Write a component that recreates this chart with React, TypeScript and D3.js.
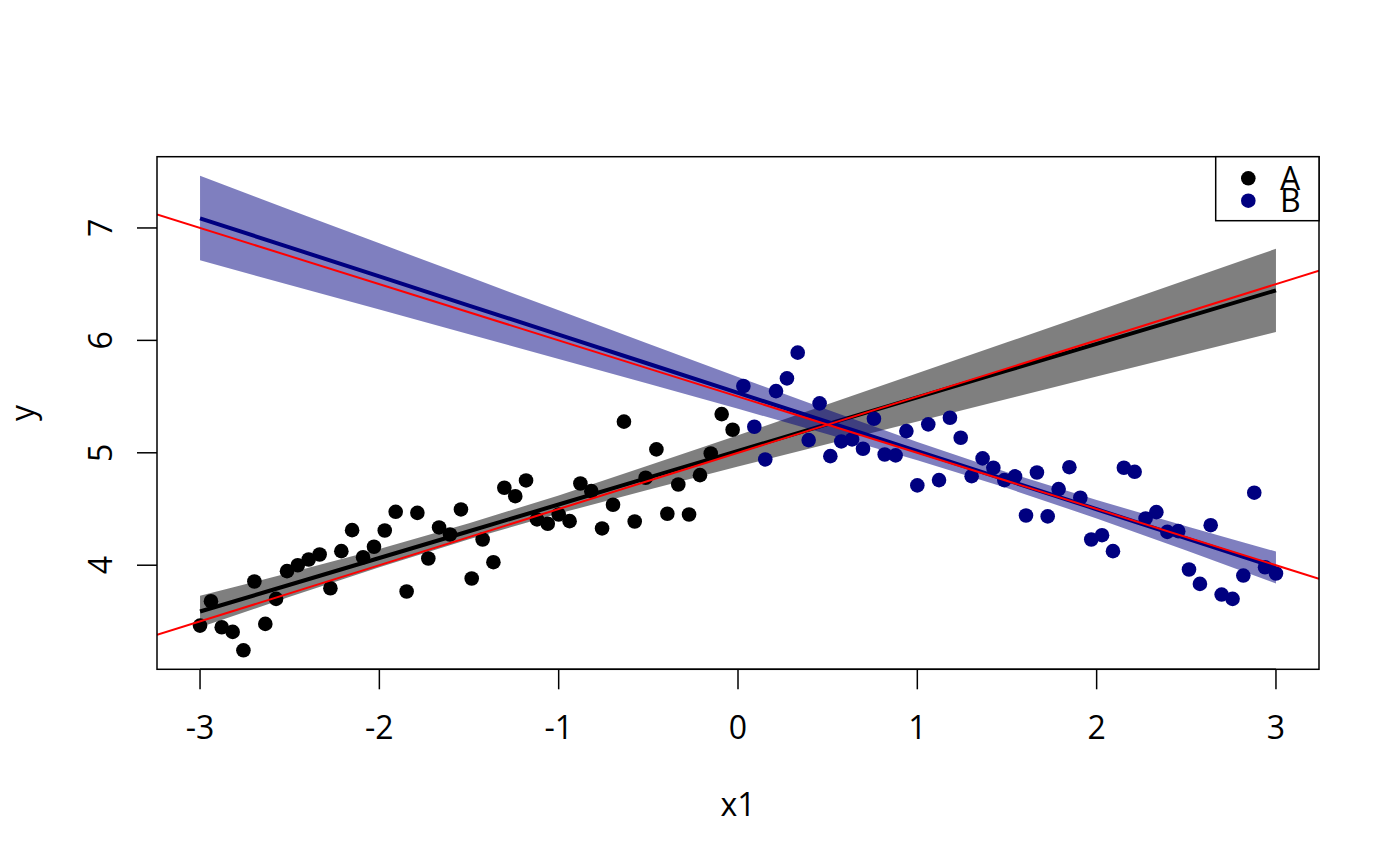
import React from "react";
import * as d3 from "d3";

// ---- data ----
const xA = [-3.000,-2.939,-2.879,-2.818,-2.758,-2.697,-2.636,-2.576,-2.515,-2.455,-2.394,-2.333,-2.273,-2.212,-2.152,-2.091,-2.030,-1.970,-1.909,-1.848,-1.788,-1.727,-1.667,-1.606,-1.545,-1.485,-1.424,-1.364,-1.303,-1.242,-1.182,-1.121,-1.061,-1.000,-0.939,-0.879,-0.818,-0.758,-0.697,-0.636,-0.576,-0.515,-0.455,-0.394,-0.333,-0.273,-0.212,-0.152,-0.091,-0.030];
const yA = [3.463,3.680,3.448,3.407,3.243,3.855,3.478,3.701,3.947,4.000,4.051,4.095,3.795,4.125,4.312,4.071,4.164,4.309,4.475,3.766,4.466,4.060,4.336,4.273,4.496,3.882,4.229,4.027,4.689,4.614,4.754,4.407,4.369,4.451,4.392,4.727,4.659,4.327,4.538,5.277,4.389,4.778,5.030,4.458,4.718,4.451,4.801,4.994,5.344,5.205];
const xB = [0.030,0.091,0.152,0.212,0.273,0.333,0.394,0.455,0.515,0.576,0.636,0.697,0.758,0.818,0.879,0.939,1.000,1.061,1.121,1.182,1.242,1.303,1.364,1.424,1.485,1.545,1.606,1.667,1.727,1.788,1.848,1.909,1.970,2.030,2.091,2.152,2.212,2.273,2.333,2.394,2.455,2.515,2.576,2.636,2.697,2.758,2.818,2.879,2.939,3.000];
const yB = [5.594,5.232,4.941,5.549,5.662,5.891,5.113,5.440,4.970,5.101,5.119,5.036,5.303,4.985,4.977,5.193,4.710,5.253,4.757,5.312,5.134,4.792,4.950,4.867,4.757,4.790,4.442,4.825,4.434,4.677,4.872,4.600,4.229,4.267,4.125,4.867,4.831,4.416,4.472,4.297,4.303,3.962,3.834,4.356,3.739,3.701,3.908,4.645,3.982,3.926];

// fitted lines and confidence bands
const gridX = [-3,-2.5,-2,-1.5,-1,-0.5,0,0.5,1,1.5,2,2.5,3];
const fitA = [3.588,3.826,4.064,4.302,4.540,4.779,5.017,5.255,5.493,5.731,5.969,6.207,6.445];
const lowA = [3.448,3.719,3.983,4.231,4.459,4.672,4.877,5.079,5.279,5.479,5.678,5.877,6.075];
const upA = [3.728,3.933,4.145,4.373,4.621,4.886,5.157,5.431,5.707,5.983,6.260,6.537,6.815];
const fitB = [7.086,6.827,6.569,6.310,6.051,5.792,5.533,5.274,5.015,4.757,4.498,4.239,3.980];
const lowB = [6.712,6.493,6.275,6.055,5.835,5.614,5.391,5.166,4.933,4.686,4.416,4.131,3.838];
const upB = [7.465,7.161,6.863,6.565,6.267,5.970,5.675,5.382,5.097,4.828,4.580,4.347,4.122];

// true lines (abline): intercept, slope
const trueA = [5, 0.5];
const trueB = [5.5, -0.5];

const xTicks = [-3, -2, -1, 0, 1, 2, 3];
const yTicks = [4, 5, 6, 7];
const legendLabels = ["A", "B"];
const legendColors = ["#000000", "#000080"];

const W = 1400, H = 866;
const L = 157, R = 1319, T = 156.7, B = 669.3;
const FONT = "'Open Sans', 'Noto Sans', sans-serif";

export default function App() {
  const xExt = [Math.min(...xA, ...xB), Math.max(...xA, ...xB)];
  const yMin = Math.min(...yA, ...yB, ...lowA, ...lowB);
  const yMax = Math.max(...yA, ...yB, ...upA, ...upB);
  const xPad = (xExt[1] - xExt[0]) * 0.04;
  const yPad = (yMax - yMin) * 0.04;
  const x = d3.scaleLinear().domain([xExt[0] - xPad, xExt[1] + xPad]).range([L, R]);
  const y = d3.scaleLinear().domain([yMin - yPad, yMax + yPad]).range([B, T]);

  const bandA = d3.area<number>().x((_, i) => x(gridX[i])).y0((_, i) => y(lowA[i])).y1((_, i) => y(upA[i]))(gridX) as string;
  const bandB = d3.area<number>().x((_, i) => x(gridX[i])).y0((_, i) => y(lowB[i])).y1((_, i) => y(upB[i]))(gridX) as string;
  const lineA = d3.line<number>().x((_, i) => x(gridX[i])).y((_, i) => y(fitA[i]))(gridX) as string;
  const lineB = d3.line<number>().x((_, i) => x(gridX[i])).y((_, i) => y(fitB[i]))(gridX) as string;
  const [dx0, dx1] = x.domain();
  const abl = (p: number[]) => ({ x1: x(dx0), y1: y(p[0] + p[1] * dx0), x2: x(dx1), y2: y(p[0] + p[1] * dx1) });
  const rA = abl(trueA), rB = abl(trueB);

  const r = 7.3;
  return (
    <svg width={W} height={H} style={{ position: "absolute", left: 0, top: 0, background: "#fff" }} fontFamily={FONT}>
      <defs>
        <clipPath id="plotclip"><rect x={L} y={T} width={R - L} height={B - T} /></clipPath>
      </defs>
      <rect x={0} y={0} width={W} height={H} fill="#fff" />
      <g clipPath="url(#plotclip)">
        <path d={bandA} fill="rgba(0,0,0,0.5)" />
        <path d={lineA} fill="none" stroke="#000" strokeWidth={4} />
        {xA.map((v, i) => <circle key={"a" + i} cx={x(v)} cy={y(yA[i])} r={r} fill="#000" />)}
        <path d={bandB} fill="rgba(0,0,128,0.5)" />
        <path d={lineB} fill="none" stroke="#000080" strokeWidth={4} />
        {xB.map((v, i) => <circle key={"b" + i} cx={x(v)} cy={y(yB[i])} r={r} fill="#000080" />)}
        <line {...rA} stroke="#ff0000" strokeWidth={2} />
        <line {...rB} stroke="#ff0000" strokeWidth={2} />
      </g>
      <rect x={L} y={T} width={R - L} height={B - T} fill="none" stroke="#000" strokeWidth={1.5} />
      {/* x axis */}
      <line x1={x(xTicks[0])} x2={x(xTicks[xTicks.length - 1])} y1={B} y2={B} stroke="#000" strokeWidth={1.5} />
      {xTicks.map(t => (
        <g key={"xt" + t}>
          <line x1={x(t)} x2={x(t)} y1={B} y2={B + 20} stroke="#000" strokeWidth={1.5} />
          <text x={x(t)} y={738.5} fontSize={32} textAnchor="middle">{t}</text>
        </g>
      ))}
      {/* y axis */}
      {yTicks.map(t => (
        <g key={"yt" + t}>
          <line x1={L - 20} x2={L} y1={y(t)} y2={y(t)} stroke="#000" strokeWidth={1.5} />
          <text transform={`translate(${111.5},${y(t)}) rotate(-90)`} fontSize={32} textAnchor="middle">{t}</text>
        </g>
      ))}
      <text x={(L + R) / 2} y={815.5} fontSize={32} textAnchor="middle">x1</text>
      <text transform={`translate(${34},${(T + B) / 2}) rotate(-90)`} fontSize={32} textAnchor="middle">y</text>
      {/* legend */}
      <rect x={1215.7} y={T} width={R - 1215.7} height={64} fill="#fff" stroke="#000" strokeWidth={1.5} />
      {legendLabels.map((lab, i) => (
        <g key={"lg" + i}>
          <circle cx={1248.3} cy={178.3 + i * 22.4} r={r} fill={legendColors[i]} />
          <text x={1280} y={178.3 + i * 22.4 + 11.4} fontSize={32}>{lab}</text>
        </g>
      ))}
    </svg>
  );
}
